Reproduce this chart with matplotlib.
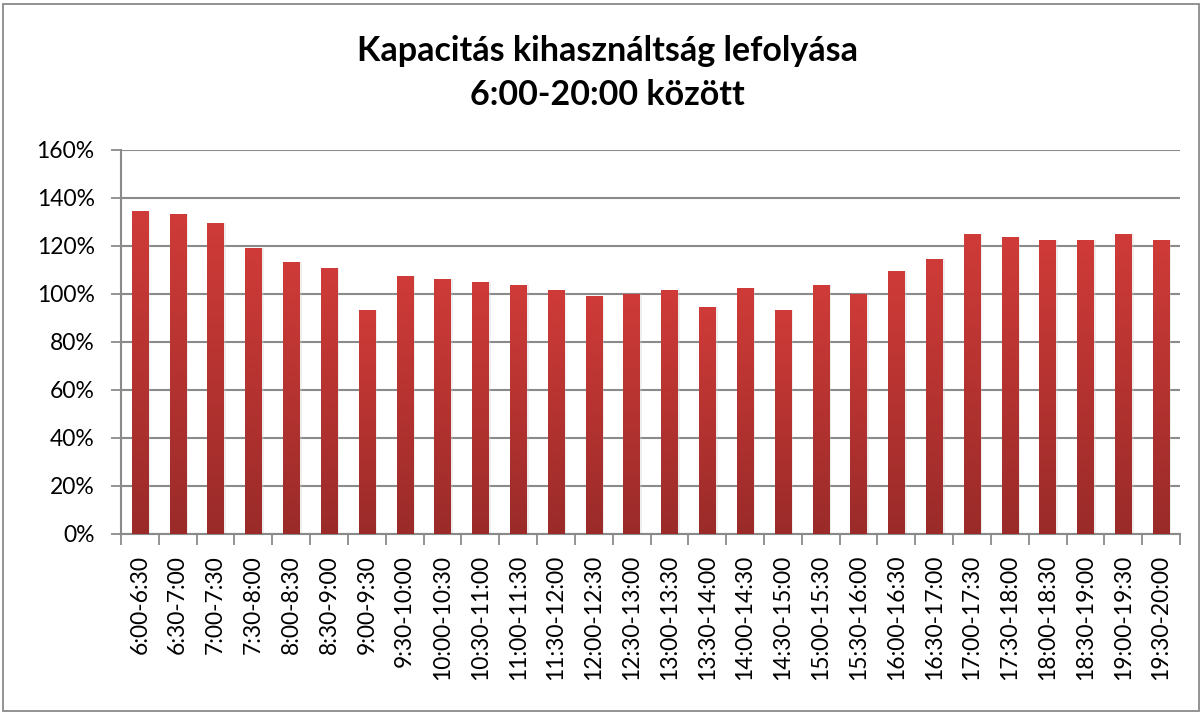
import numpy as np
import matplotlib
matplotlib.use("Agg")
import matplotlib.pyplot as plt
from matplotlib.colors import LinearSegmentedColormap
from matplotlib.patches import Rectangle
from matplotlib.ticker import PercentFormatter

# time slots and utilisation values (fraction of capacity)
slots = ["6:00-6:30", "6:30-7:00", "7:00-7:30", "7:30-8:00", "8:00-8:30", "8:30-9:00",
         "9:00-9:30", "9:30-10:00", "10:00-10:30", "10:30-11:00", "11:00-11:30",
         "11:30-12:00", "12:00-12:30", "12:30-13:00", "13:00-13:30", "13:30-14:00",
         "14:00-14:30", "14:30-15:00", "15:00-15:30", "15:30-16:00", "16:00-16:30",
         "16:30-17:00", "17:00-17:30", "17:30-18:00", "18:00-18:30", "18:30-19:00",
         "19:00-19:30", "19:30-20:00"]
usage = [1.345, 1.332, 1.295, 1.19, 1.132, 1.107, 0.932, 1.074, 1.061, 1.049, 1.036,
         1.015, 0.99, 1.002, 1.015, 0.945, 1.024, 0.932, 1.036, 1.002, 1.095, 1.145,
         1.249, 1.236, 1.224, 1.224, 1.249, 1.224]
yticks = [0, 0.2, 0.4, 0.6, 0.8, 1.0, 1.2, 1.4, 1.6]

title = "Kapacitás kihasználtság lefolyása\n6:00-20:00 között"

plt.rcParams['font.family'] = ['Lato', 'DejaVu Sans']

fig = plt.figure(figsize=(12.04, 7.15), dpi=100)
ax = fig.add_axes([121 / 1204, 1 - 534 / 715, (1180 - 121) / 1204, (534 - 150) / 715])

x = np.arange(len(slots))
w = 0.43
grad = LinearSegmentedColormap.from_list("bar", ["#9a2b29", "#cf3b38"])

# soft shadow
ax.bar(x + 0.06, usage, width=w, color="#d0d0d0", alpha=0.35, zorder=2, linewidth=0)
bars = ax.bar(x, usage, width=w, color="#c83836", zorder=3, linewidth=0)
for b in bars:
    bx, by = b.get_x(), b.get_y()
    bw, bh = b.get_width(), b.get_height()
    im = ax.imshow(np.linspace(0, 1, 256).reshape(-1, 1), cmap=grad, origin="lower",
                   extent=[bx, bx + bw, by, by + bh], aspect="auto", zorder=4)
    im.set_clip_path(b)

ax.set_xlim(-0.5, len(slots) - 0.5)
ax.set_ylim(0, 1.6)
ax.set_yticks(yticks)
ax.yaxis.set_major_formatter(PercentFormatter(1.0, decimals=0))
ax.grid(axis="y", color="#8a8a8a", linewidth=1.5, zorder=1)
ax.set_axisbelow(True)

ax.set_xticks(x)
ax.set_xticklabels(slots, rotation=90, fontsize=16.5)
ax.set_xticks(np.arange(len(slots) + 1) - 0.5, minor=True)
ax.tick_params(axis="x", which="major", length=0, pad=15)
ax.tick_params(axis="x", which="minor", length=8, width=1.3, color="#8a8a8a", direction="out")
ax.tick_params(axis="y", length=7, width=1.3, color="#8a8a8a", labelsize=16.5, pad=12)

for s in ["top", "right"]:
    ax.spines[s].set_visible(False)
for s in ["left", "bottom"]:
    ax.spines[s].set_color("#8a8a8a")
    ax.spines[s].set_linewidth(1.5)

fig.text(607 / 1204, 1 - 73 / 715, title, ha="center", va="center", fontsize=24.5,
         fontweight="bold", linespacing=1.45)

fig.patches.append(Rectangle((3 / 1204, 4 / 715), 1196 / 1204, 707 / 715,
                             transform=fig.transFigure, fill=False,
                             edgecolor="#8a8a8a", linewidth=1.3))

fig.savefig("out.png", dpi=100)
